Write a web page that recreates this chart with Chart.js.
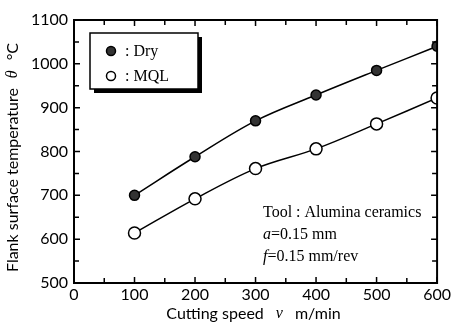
<!DOCTYPE html>
<html>
<head>
<meta charset="utf-8">
<script src="https://cdn.jsdelivr.net/npm/chart.js@4"></script>
<style>
  html, body { margin: 0; padding: 0; background: #fff; }
  #wrap { width: 453px; height: 325px; }
</style>
</head>
<body>
<div id="wrap"><canvas id="tempChart"></canvas></div>
<script>
// data
var cuttingSpeed = [100, 200, 300, 400, 500, 600];
var dryTemp = [700, 788, 870, 929, 985, 1040];
var mqlTemp = [614, 692, 761, 806, 863, 922];
var seriesNames = [": Dry", ": MQL"];
var noteLines = ["Tool : Alumina ceramics", "=0.15 mm", "=0.15 mm/rev"];
var noteSymbols = ["", "a", "f"];
// axis titles: [text, italic?]
var xTitle = [["Cutting speed", false], ["v", true], ["m/min", false]];
var yTitle = [["Flank surface temperature", false], ["\u03B8", true], ["\u00B0C", false]];

var serif = "'Liberation Serif', 'Times New Roman', serif";
var sans = "Lato, 'Open Sans', sans-serif";

function drawParts(c, parts, size, gap) {
  var total = 0, widths = [];
  parts.forEach(function (p) {
    c.font = p[1] ? "italic " + size + "px " + serif : size + "px " + sans;
    var w = c.measureText(p[0]).width;
    widths.push(w);
    total += w;
  });
  total += gap * (parts.length - 1);
  var x = -total / 2;
  parts.forEach(function (p, i) {
    c.font = p[1] ? "italic " + size + "px " + serif : size + "px " + sans;
    c.fillText(p[0], x, 0);
    x += widths[i] + gap;
  });
}

// frame, inward ticks on all four sides, axis titles
var framePlugin = {
  id: "frame",
  afterDraw: function (chart) {
    var c = chart.ctx, a = chart.chartArea;
    var xs = chart.scales.x, ys = chart.scales.y;
    c.save();
    c.strokeStyle = "#000";
    c.lineWidth = 2;
    c.strokeRect(a.left, a.top, a.right - a.left, a.bottom - a.top);
    c.lineWidth = 1.5;
    for (var v = 0; v <= 600; v += 50) {
      var px = xs.getPixelForValue(v);
      var len = v % 100 === 0 ? 6 : 5;
      c.beginPath();
      c.moveTo(px, a.bottom); c.lineTo(px, a.bottom - len);
      c.moveTo(px, a.top); c.lineTo(px, a.top + len);
      c.stroke();
    }
    for (var t = 500; t <= 1100; t += 50) {
      var py = ys.getPixelForValue(t);
      var l2 = t % 100 === 0 ? 6 : 5;
      c.beginPath();
      c.moveTo(a.left, py); c.lineTo(a.left + l2, py);
      c.moveTo(a.right, py); c.lineTo(a.right - l2, py);
      c.stroke();
    }
    c.fillStyle = "#000";
    c.textBaseline = "middle";
    c.translate((a.left + a.right) / 2 - 2, 314);
    drawParts(c, xTitle, 16, 12);
    c.setTransform(1, 0, 0, 1, 0, 0);
    c.translate(13, (a.top + a.bottom) / 2 + 6);
    c.rotate(-Math.PI / 2);
    drawParts(c, yTitle, 16, 10);
    c.restore();
  }
};

// legend box with drop shadow
var legendPlugin = {
  id: "boxLegend",
  afterDraw: function (chart) {
    var c = chart.ctx;
    var bx = 90, by = 33, bw = 108, bh = 56;
    c.save();
    c.fillStyle = "#000";
    c.fillRect(bx + 4, by + 4, bw, bh);
    c.fillStyle = "#fff";
    c.fillRect(bx, by, bw, bh);
    c.strokeStyle = "#000";
    c.lineWidth = 1.5;
    c.strokeRect(bx, by, bw, bh);
    var rows = [by + 18, by + 43];
    var fills = ["#333", "#fff"];
    for (var i = 0; i < 2; i++) {
      c.beginPath();
      c.arc(bx + 21, rows[i], 4.5, 0, Math.PI * 2);
      c.fillStyle = fills[i];
      c.fill();
      c.lineWidth = 1.5;
      c.stroke();
      c.fillStyle = "#000";
      c.font = "16px " + serif;
      c.textBaseline = "middle";
      c.fillText(seriesNames[i], bx + 35, rows[i] + 1);
    }
    c.restore();
  }
};

// tool / condition note
var notePlugin = {
  id: "note",
  afterDraw: function (chart) {
    var c = chart.ctx;
    var x0 = 263, ys = [213, 235, 257];
    c.save();
    c.fillStyle = "#000";
    c.textBaseline = "middle";
    for (var i = 0; i < noteLines.length; i++) {
      var x = x0;
      if (noteSymbols[i]) {
        c.font = "italic 16px " + serif;
        c.fillText(noteSymbols[i], x, ys[i]);
        x += c.measureText(noteSymbols[i]).width;
      }
      c.font = "16px " + serif;
      c.fillText(noteLines[i], x, ys[i]);
    }
    c.restore();
  }
};

var ctx = document.getElementById("tempChart").getContext("2d");
var tempChart = new Chart(ctx, {
  type: "line",
  data: {
    datasets: [
      {
        label: "Dry",
        data: cuttingSpeed.map(function (s, i) { return { x: s, y: dryTemp[i] }; }),
        borderColor: "#000",
        borderWidth: 1.5,
        backgroundColor: "#333",
        pointBackgroundColor: "#333",
        pointBorderColor: "#000",
        pointBorderWidth: 1.5,
        pointRadius: 5,
        tension: 0.35
      },
      {
        label: "MQL",
        data: cuttingSpeed.map(function (s, i) { return { x: s, y: mqlTemp[i] }; }),
        borderColor: "#000",
        borderWidth: 1.5,
        backgroundColor: "#fff",
        pointBackgroundColor: "#fff",
        pointBorderColor: "#000",
        pointBorderWidth: 1.5,
        pointRadius: 6,
        tension: 0.35
      }
    ]
  },
  options: {
    responsive: true,
    maintainAspectRatio: false,
    animation: false,
    layout: { padding: { top: 20, right: 12, left: 0, bottom: 0 } },
    plugins: {
      legend: { display: false },
      tooltip: { enabled: false }
    },
    scales: {
      x: {
        type: "linear",
        min: 0,
        max: 600,
        ticks: {
          stepSize: 100,
          color: "#000",
          padding: 2,
          font: { family: sans, size: 16 },
          callback: function (v) { return String(v); }
        },
        grid: { display: false, drawTicks: false },
        border: { display: false },
        afterFit: function (scale) { scale.height = 42; }
      },
      y: {
        min: 500,
        max: 1100,
        ticks: {
          stepSize: 100,
          color: "#000",
          padding: 6,
          font: { family: sans, size: 16 },
          callback: function (v) { return String(v); }
        },
        grid: { display: false, drawTicks: false },
        border: { display: false },
        afterFit: function (scale) { scale.width = 74; }
      }
    }
  },
  plugins: [framePlugin, legendPlugin, notePlugin]
});
</script>
</body>
</html>
